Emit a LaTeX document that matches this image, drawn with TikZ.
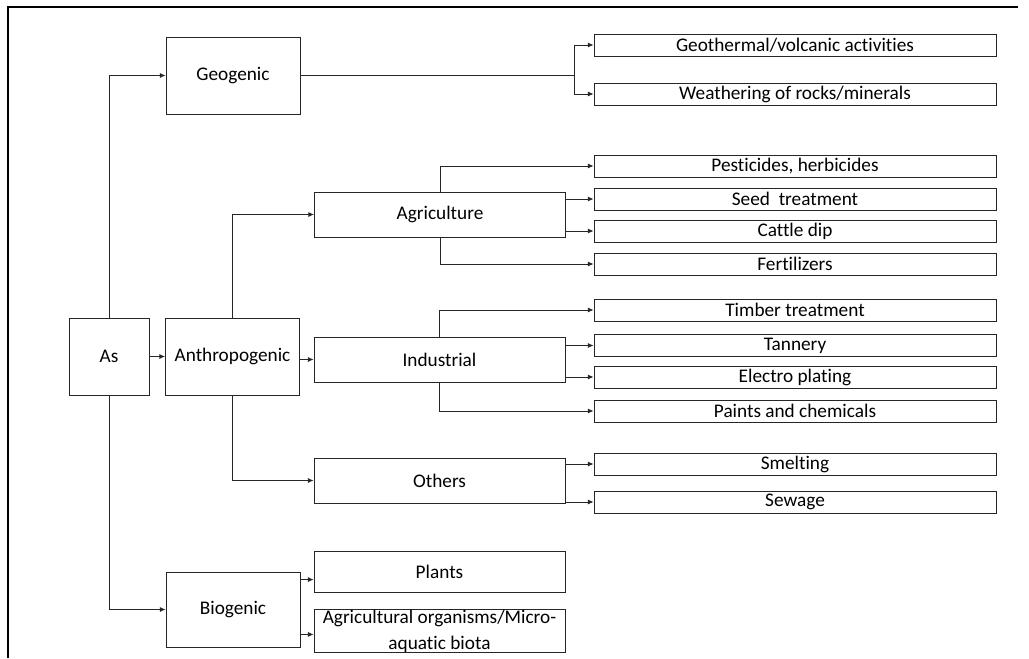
\documentclass[tikz,border=0pt]{standalone}
\usepackage{fontspec}
\setmainfont{Carlito}[Ligatures={NoCommon}]
\usepackage{tikz}
\usetikzlibrary{arrows.meta, positioning}

\begin{document}
\begin{tikzpicture}[
    x=0.025cm, y=-0.025cm,
    every node/.style={font=\fontsize{13.7}{16}\selectfont},
    box/.style={draw=black!85, line width=0.6pt, inner sep=1pt, align=center},
    big/.style={box, minimum width=3.35cm, minimum height=1.925cm},
    mid/.style={box, minimum width=6.275cm, minimum height=1.125cm},
    leaf/.style={box, minimum width=10.05cm, minimum height=0.55cm, inner sep=0pt},
    line/.style={line width=0.6pt, draw=black!85},
    arr/.style={line, -{Latex[length=4pt, width=3.6pt]}}
]
\useasboundingbox (0,0) rectangle (1029,658);
\draw[line width=1.4pt] (8,658) -- (8,7) -- (1018,7);

% sources
\node[big, minimum width=2cm] (as) at (109,356.5) {As};
\node[big] (geo) at (233,75.5) {Geogenic};
\node[big] (anthro) at (232.5,356.5) {Anthropogenic};
\node[big, minimum height=1.875cm] (bio) at (233,609.5) {Biogenic};

\node[mid] (agri) at (440,214.5) {Agriculture};
\node[mid] (ind) at (439.5,359.5) {Industrial};
\node[mid] (oth) at (439.5,480.5) {Others};
\node[mid, minimum height=1.025cm] (plants) at (439.5,571.5) {Plants};
\node[mid, minimum height=1.05cm, inner sep=0pt, font=\fontsize{13.7}{18.5}\selectfont] (orgs) at (439.5,631) {Agricultural organisms/Micro-\\aquatic biota};

% leaves
\node[leaf] (geoth) at (795,45) {Geothermal/volcanic activities};
\node[leaf] (weath) at (795,94) {Weathering of rocks/minerals};
\node[leaf] (pest) at (795,166) {Pesticides, herbicides};
\node[leaf] (seed) at (795,199) {Seed~ treatment};
\node[leaf] (cattle) at (795,231) {Cattle dip};
\node[leaf] (fert) at (795,264) {Fertilizers};
\node[leaf] (timber) at (795,310) {Timber treatment};
\node[leaf] (tann) at (795,345.5) {Tannery};
\node[leaf] (elec) at (795,377) {Electro plating};
\node[leaf] (paint) at (795,411) {Paints and chemicals};
\node[leaf] (smelt) at (795,464) {Smelting};
\node[leaf] (sewage) at (795,502) {Sewage};

% connectors
\draw[arr] (as.north) |- (geo.west);
\draw[arr] (as.east) -- (anthro.west);
\draw[arr] (as.south) |- (bio.west);

\coordinate (gsplit) at (574,75.5);
\draw[line] (geo.east) -- (gsplit);
\draw[arr] (gsplit) |- (geoth.west);
\draw[arr] (gsplit) |- (weath.west);

\draw[arr] (anthro.north) |- (agri.west);
\draw[arr] (anthro.east |- ind.west) -- (ind.west);
\draw[arr] (anthro.south) |- (oth.west);

\draw[arr] (agri.north) |- (pest.west);
\draw[arr] (agri.east |- seed.west) -- (seed.west);
\draw[arr] (agri.east |- cattle.west) -- (cattle.west);
\draw[arr] (agri.south) |- (fert.west);

\draw[arr] (ind.north) |- (timber.west);
\draw[arr] (ind.east |- tann.west) -- (tann.west);
\draw[arr] (ind.east |- elec.west) -- (elec.west);
\draw[arr] (ind.south) |- (paint.west);

\draw[arr] (oth.east |- smelt.west) -- (smelt.west);
\draw[arr] (oth.east |- sewage.west) -- (sewage.west);

\coordinate (bioA) at ([yshift=-0.2cm]bio.north east);
\coordinate (bioB) at ([yshift=0.325cm]bio.south east);
\draw[arr] (bioA) -- (bioA -| plants.west);
\draw[arr] (bioB) -- (bioB -| orgs.west);
\end{tikzpicture}
\end{document}
